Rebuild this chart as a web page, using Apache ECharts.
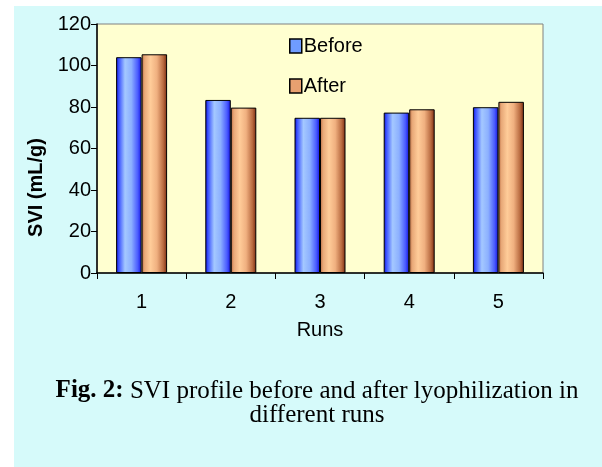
<!DOCTYPE html>
<html><head><meta charset="utf-8">
<script src="https://cdn.jsdelivr.net/npm/echarts@6/dist/echarts.min.js"></script>
<style>html,body{margin:0;padding:0;background:#fff}#c{width:602px;height:467px}</style>
</head><body><div id="c"></div>
<script>
var categories = ['1','2','3','4','5'];
var before = [104, 83.4, 74.8, 77.3, 79.9];
var after = [105.4, 79.7, 74.8, 78.9, 82.5];
var yTicks = [0, 20, 40, 60, 80, 100, 120];

var chart = echarts.init(document.getElementById('c'), null, {renderer:'canvas'});
function grad(stops){return new echarts.graphic.LinearGradient(0,0,1,0,stops.map(function(s){return {offset:s[0],color:s[1]};}));}
var blueG = grad([[0,'#0808d0'],[0.1,'#3850ff'],[0.35,'#a4c8ff'],[0.6,'#8cb0ff'],[0.85,'#4a5cff'],[1,'#1010e0']]);
var orangeG = grad([[0,'#b86a40'],[0.12,'#e8a878'],[0.35,'#ffcc99'],[0.6,'#f0b080'],[0.85,'#b86a40'],[1,'#7a2a10']]);
var font = 'Liberation Sans, Arial, sans-serif';
var serif = 'Liberation Serif, Times New Roman, serif';
chart.setOption({
  backgroundColor:'#ffffff',
  animation:false,
  graphic:[
    {type:'rect', z:-10, shape:{x:14,y:6,width:602,height:470}, style:{fill:'#d6fafa'}},
    {type:'rect', z:-9, shape:{x:97,y:24,width:446,height:249}, style:{fill:'#ffffd0', stroke:'#808080', lineWidth:1}}
  ],
  title:{
    left:312, top:374, textAlign:'center',
    text:'{b|Fig. 2:}{n| SVI profile before and after lyophilization in}\n{n|different runs}',
    textStyle:{
      fontWeight:'normal',
      rich:{
        b:{fontFamily:serif, fontWeight:'bold', fontSize:25, color:'#000', lineHeight:24},
        n:{fontFamily:serif, fontWeight:'normal', fontSize:25, color:'#000', lineHeight:24}
      }
    }
  },
  legend:{
    left:284, top:31, orient:'vertical', itemGap:20, itemWidth:12, itemHeight:14, icon:'rect',
    textStyle:{fontFamily:font, fontSize:20, color:'#000', padding:[0,0,0,-3]},
    data:[{name:'Before', itemStyle:{color:'#6f9cff', borderColor:'#000', borderWidth:1.5}},
          {name:'After', itemStyle:{color:'#e8a070', borderColor:'#000', borderWidth:1.5}}]
  },
  grid:{left:97, right:59, top:24, bottom:194},
  xAxis:{
    type:'category', data:categories, name:'Runs', nameLocation:'middle', nameGap:47,
    nameTextStyle:{fontFamily:font, fontSize:20, color:'#000'},
    axisLine:{lineStyle:{color:'#000', width:1.5}},
    axisTick:{show:true, alignWithLabel:false, length:6, lineStyle:{color:'#000'}},
    axisLabel:{fontFamily:font, fontSize:20, color:'#000', margin:19}
  },
  yAxis:{
    type:'value', min:yTicks[0], max:yTicks[yTicks.length-1], interval:20,
    name:'SVI (mL/g)', nameLocation:'middle', nameGap:45,
    nameTextStyle:{fontFamily:font, fontSize:20, fontWeight:'bold', color:'#000', padding:[0,78,0,0]},
    axisLine:{show:true, lineStyle:{color:'#000', width:1.5}},
    axisTick:{show:true, length:6, lineStyle:{color:'#000'}},
    splitLine:{show:false},
    axisLabel:{fontFamily:font, fontSize:20, color:'#000', margin:6}
  },
  series:[
    {name:'Before', type:'bar', data:before, barWidth:25.5, barGap:'0%',
     itemStyle:{color:blueG, borderColor:'#000', borderWidth:1}},
    {name:'After', type:'bar', data:after, barWidth:25.5, barGap:'0%',
     itemStyle:{color:orangeG, borderColor:'#000', borderWidth:1}}
  ]
});
</script></body></html>
